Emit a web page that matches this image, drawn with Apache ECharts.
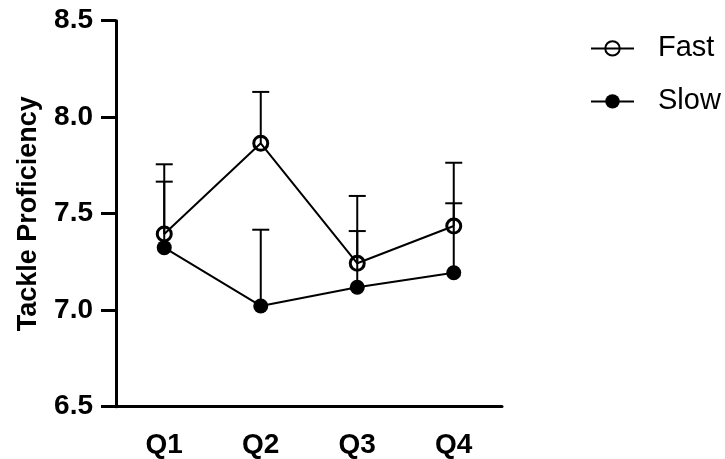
<!DOCTYPE html>
<html>
<head>
<meta charset="utf-8">
<script src="https://cdn.jsdelivr.net/npm/echarts@6/dist/echarts.min.js"></script>
<style>html,body{margin:0;padding:0;background:#fff}#c{width:725px;height:459px}</style>
</head>
<body>
<div id="c"></div>
<script>
const categories = ['Q1', 'Q2', 'Q3', 'Q4'];
const fastMean = [7.395, 7.865, 7.243, 7.436];
const fastUpper = [7.756, 8.131, 7.592, 7.764];
const slowMean = [7.324, 7.022, 7.119, 7.194];
const slowUpper = [7.666, 7.417, 7.410, 7.554];
const yTicks = [6.5, 7.0, 7.5, 8.0, 8.5];

const FONT = '"Liberation Sans", Arial, Helvetica, sans-serif';

function errData(mean, upper) {
  return mean.map((m, i) => [i, m, upper[i]]);
}
function renderErr(params, api) {
  const x = api.value(0);
  const p0 = api.coord([x, api.value(1)]);
  const p1 = api.coord([x, api.value(2)]);
  const half = 8.5;
  const style = { stroke: '#000', lineWidth: 2, fill: null };
  return {
    type: 'group',
    children: [
      { type: 'line', shape: { x1: p0[0], y1: p0[1], x2: p1[0], y2: p1[1] }, style },
      { type: 'line', shape: { x1: p1[0] - half, y1: p1[1], x2: p1[0] + half, y2: p1[1] }, style }
    ]
  };
}

const chart = echarts.init(document.getElementById('c'));
chart.setOption({
  backgroundColor: '#fff',
  animation: false,
  textStyle: { fontFamily: FONT },
  grid: { left: 116, right: 223, top: 20.7, bottom: 52.3, containLabel: false, outerBoundsMode: 'none' },
  legend: {
    data: ['Fast', 'Slow'],
    orient: 'vertical',
    left: 585,
    top: 28.4,
    itemWidth: 43,
    itemHeight: 18,
    itemGap: 23,
    selectedMode: false,
    textStyle: { fontFamily: FONT, fontSize: 29, color: '#000', lineHeight: 30, padding: [0, 0, 0, 19] }
  },
  xAxis: {
    type: 'category',
    data: categories,
    axisLine: { lineStyle: { color: '#000', width: 3 } },
    axisTick: { show: false },
    axisLabel: { color: '#000', fontFamily: FONT, fontWeight: 'bold', fontSize: 28, margin: 25 },
    splitLine: { show: false }
  },
  yAxis: {
    type: 'value',
    min: yTicks[0],
    max: yTicks[yTicks.length - 1],
    interval: 0.5,
    name: 'Tackle Proficiency',
    nameLocation: 'middle',
    nameGap: 74,
    nameTextStyle: { color: '#000', fontFamily: FONT, fontWeight: 'bold', fontSize: 27 },
    axisLine: { show: true, lineStyle: { color: '#000', width: 3 } },
    axisTick: { show: true, inside: false, length: 15, lineStyle: { color: '#000', width: 3 } },
    axisLabel: { color: '#000', fontFamily: FONT, fontWeight: 'bold', fontSize: 28, margin: 23,
      formatter: v => v.toFixed(1) },
    splitLine: { show: false }
  },
  series: [
    {
      name: 'Fast err', type: 'custom', renderItem: renderErr, data: errData(fastMean, fastUpper), z: 1, silent: true
    },
    {
      name: 'Slow err', type: 'custom', renderItem: renderErr, data: errData(slowMean, slowUpper), z: 1, silent: true
    },
    {
      name: 'Slow', type: 'line', data: slowMean, symbol: 'circle', symbolSize: 15,
      itemStyle: { color: '#000' }, lineStyle: { color: '#000', width: 2 }, z: 2,
      emphasis: { disabled: true }
    },
    {
      name: 'Fast', type: 'line', data: fastMean, symbol: 'circle', symbolSize: 14,
      itemStyle: { color: 'transparent', borderColor: '#000', borderWidth: 3 },
      lineStyle: { color: '#000', width: 2 }, z: 3,
      emphasis: { disabled: true }
    }
  ]
});
</script>
</body>
</html>
